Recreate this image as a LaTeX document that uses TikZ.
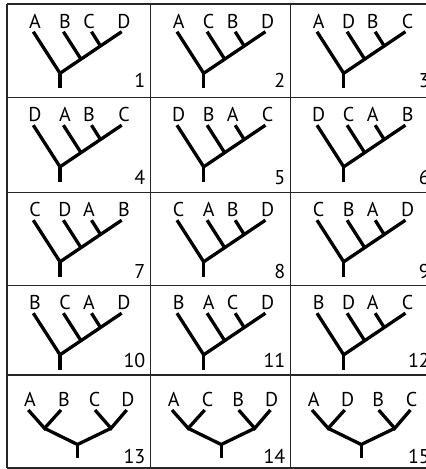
\documentclass[tikz,border=0pt]{standalone}
\usepackage{fontspec}
\setmainfont{PT Sans}
\tikzset{
  x=1pt, y=-1pt,
  gridline/.style={line width=1.5pt, black!85},
  branch/.style={line width=3.3pt, black, line cap=butt},
  taxon/.style={font=\fontsize{20}{20}\selectfont, anchor=base, inner sep=0pt},
  cellnum/.style={font=\fontsize{20}{20}\selectfont, anchor=base east, inner sep=0pt},
}
% caterpillar tree: #1 x of cell, #2 y of row top, #3 name, #4-#7 labels
\newcommand\cattree[7]{%
  \begin{scope}[shift={(#1,#2)}]
    \coordinate (#3-bot)  at (53,84);
    \coordinate (#3-root) at (53,69.3);
    \coordinate (#3-t1)   at (26.3,27.7);
    \coordinate (#3-j2)   at (74,55.2);
    \coordinate (#3-t2)   at (56.4,27.7);
    \coordinate (#3-j3)   at (93.5,42);
    \coordinate (#3-t3)   at (84.5,27.7);
    \coordinate (#3-t4)   at (114.7,27.7);
    \draw[branch] (#3-bot) -- (#3-root);
    \draw[branch] (#3-root) -- (#3-t1);
    \draw[branch] (#3-root) -- (#3-t4);
    \draw[branch] (#3-j2) -- (#3-t2);
    \draw[branch] (#3-j3) -- (#3-t3);
    \node[taxon] (#3-l1) at (28,24) {#4};
    \node[taxon] (#3-l2) at (58,24) {#5};
    \node[taxon] (#3-l3) at (82,24) {#6};
    \node[taxon] (#3-l4) at (117,24) {#7};
  \end{scope}}
% symmetric tree: #1 x of cell, #2 name, #3-#6 labels
\newcommand\symtree[6]{%
  \begin{scope}[shift={(#1,0)}]
    \coordinate (#2-bot)  at (70.5,458.3);
    \coordinate (#2-root) at (70.5,444.5);
    \coordinate (#2-jl)   at (37.5,428.3);
    \coordinate (#2-jr)   at (104,428.3);
    \coordinate (#2-t1)   at (21.3,410);
    \coordinate (#2-t2)   at (54,410);
    \coordinate (#2-t3)   at (88,410);
    \coordinate (#2-t4)   at (119.7,410);
    \draw[branch] (#2-bot) -- (#2-root);
    \draw[branch] (#2-jl) -- (#2-root) -- (#2-jr);
    \draw[branch] (#2-t1) -- (#2-jl) -- (#2-t2);
    \draw[branch] (#2-t3) -- (#2-jr) -- (#2-t4);
    \node[taxon] (#2-l1) at (23,406) {#3};
    \node[taxon] (#2-l2) at (57,406) {#4};
    \node[taxon] (#2-l3) at (87.5,406) {#5};
    \node[taxon] (#2-l4) at (121,406) {#6};
  \end{scope}}
\begin{document}
\begin{tikzpicture}
  \useasboundingbox (0,0) rectangle (426,469);
  \clip (0,0) rectangle (426,469);
  \fill[white] (0,0) rectangle (426,469);
  % grid
  \draw[gridline] (7,4) -- (434,4);
  \draw[gridline] (7,97.5) -- (434,97.5);
  \draw[gridline] (7,192.5) -- (434,192.5);
  \draw[gridline] (7,285.5) -- (434,285.5);
  \draw[gridline] (7,375) -- (434,375);
  \draw[gridline] (7,468) -- (434,468);
  \draw[gridline] (7,4) -- (7,468);
  \draw[gridline] (150.7,4) -- (150.7,468);
  \draw[gridline] (290.7,4) -- (290.7,468);
  \draw[gridline] (434,4) -- (434,468);
  % row 1
  \cattree{7}{4}{c1}{A}{B}{C}{D}
  \cattree{150.7}{4}{c2}{A}{C}{B}{D}
  \cattree{290.7}{4}{c3}{A}{D}{B}{C}
  % row 2
  \cattree{7}{97.5}{c4}{D}{A}{B}{C}
  \cattree{150.7}{97.5}{c5}{D}{B}{A}{C}
  \cattree{290.7}{97.5}{c6}{D}{C}{A}{B}
  % row 3
  \cattree{7}{192.5}{c7}{C}{D}{A}{B}
  \cattree{150.7}{192.5}{c8}{C}{A}{B}{D}
  \cattree{290.7}{192.5}{c9}{C}{B}{A}{D}
  % row 4
  \cattree{7}{285.5}{c10}{B}{C}{A}{D}
  \cattree{150.7}{285.5}{c11}{B}{A}{C}{D}
  \cattree{290.7}{285.5}{c12}{B}{D}{A}{C}
  % row 5
  \symtree{7}{c13}{A}{B}{C}{D}
  \symtree{150.7}{c14}{A}{C}{B}{D}
  \symtree{290.7}{c15}{A}{D}{B}{C}
  % numbers
  \node[cellnum] (n1)  at (145.5,87) {1};
  \node[cellnum] (n2)  at (285.5,87) {2};
  \node[cellnum] (n3)  at (430,87) {3};
  \node[cellnum] (n4)  at (145.5,184) {4};
  \node[cellnum] (n5)  at (285.5,184) {5};
  \node[cellnum] (n6)  at (430,184) {6};
  \node[cellnum] (n7)  at (145.5,278) {7};
  \node[cellnum] (n8)  at (285.5,278) {8};
  \node[cellnum] (n9)  at (430,278) {9};
  \node[cellnum] (n10) at (145.5,367) {10};
  \node[cellnum] (n11) at (285.5,367) {11};
  \node[cellnum] (n12) at (430,367) {12};
  \node[cellnum] (n13) at (145.5,463) {13};
  \node[cellnum] (n14) at (285.5,463) {14};
  \node[cellnum] (n15) at (430,463) {15};
\end{tikzpicture}
\end{document}
